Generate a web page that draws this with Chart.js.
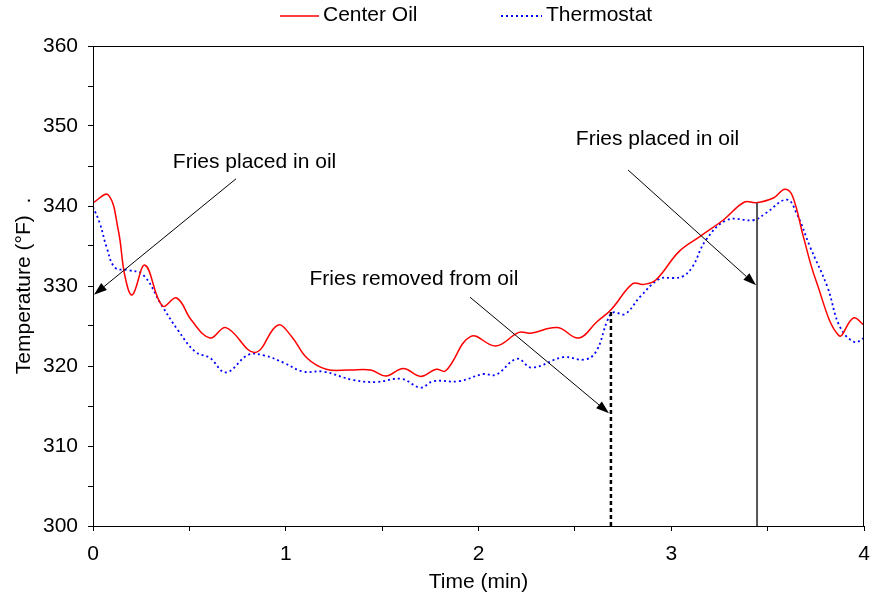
<!DOCTYPE html>
<html>
<head>
<meta charset="utf-8">
<style>
  html, body { margin: 0; padding: 0; background: #fff; }
  #wrap { width: 876px; height: 597px; }
</style>
<script src="https://cdn.jsdelivr.net/npm/chart.js@4.4.1/dist/chart.umd.min.js"></script>
</head>
<body>
<div id="wrap"><canvas id="c" width="876" height="597"></canvas></div>
<script>
// ---- Data ----
const centerTime = [0, 0.078, 0.131, 0.166, 0.204, 0.27, 0.36, 0.434, 0.51, 0.607, 0.69, 0.84, 0.958, 1.03, 1.11, 1.21, 1.33, 1.44, 1.52, 1.61, 1.70, 1.78, 1.83, 1.96, 2.09, 2.21, 2.27, 2.41, 2.52, 2.613, 2.69, 2.80, 2.855, 2.92, 3.04, 3.15, 3.27, 3.38, 3.44, 3.53, 3.59, 3.63, 3.685, 3.75, 3.87, 3.945, 4.0];
const centerTemp = [340.4, 341.4, 337.0, 331.2, 328.9, 332.6, 327.5, 328.5, 325.75, 323.5, 324.8, 321.7, 325.1, 323.7, 321.0, 319.6, 319.5, 319.5, 318.75, 319.7, 318.7, 319.6, 319.4, 323.7, 322.5, 324.2, 324.1, 324.8, 323.5, 325.5, 327.1, 330.3, 330.2, 330.75, 334.3, 336.2, 338.25, 340.5, 340.4, 341.0, 342.1, 341.2, 336.2, 330.75, 323.8, 326.0, 325.1];

const thermoTime = [0, 0.036, 0.07, 0.114, 0.18, 0.26, 0.356, 0.44, 0.53, 0.607, 0.69, 0.806, 0.89, 0.99, 1.09, 1.195, 1.35, 1.47, 1.60, 1.70, 1.765, 1.90, 2.025, 2.09, 2.20, 2.276, 2.44, 2.55, 2.61, 2.67, 2.70, 2.76, 2.84, 2.94, 3.01, 3.06, 3.11, 3.18, 3.29, 3.43, 3.49, 3.60, 3.65, 3.72, 3.81, 3.875, 3.95, 4.0];
const thermoTemp = [339.9, 337.8, 334.9, 332.3, 332.0, 331.4, 327.6, 324.5, 321.8, 321.0, 319.2, 321.4, 321.3, 320.4, 319.3, 319.3, 318.25, 318.0, 318.4, 317.3, 318.1, 318.1, 319.0, 318.9, 320.9, 319.8, 321.1, 320.8, 321.8, 325.75, 326.7, 326.5, 328.7, 330.9, 331.0, 331.2, 332.4, 335.75, 338.25, 338.25, 339.1, 340.8, 339.1, 334.9, 329.9, 324.9, 323.0, 323.5];

const seriesNames = ['Center Oil', 'Thermostat'];
const xTickLabels = [0, 1, 2, 3, 4];
const yTickLabels = [300, 310, 320, 330, 340, 350, 360];

// Annotations in data units (time, temperature)
const annotationTexts = ['Fries placed in oil', 'Fries removed from oil', 'Fries placed in oil'];
const annotationTextAt = [[0.838, 345.5], [1.665, 330.9], [2.929, 348.4]];
const arrowFrom = [[0.742, 343.4], [1.956, 328.6], [2.776, 344.5]];
const arrowTo = [[0.005, 328.9], [2.677, 314.1], [3.44, 330.1]];
const removedLine = [2.687, 300, 327.1];   // time, from, to
const placedLine = [3.445, 300, 340.4];

// ---- Build ----
const FONT = "'Liberation Sans', Arial, sans-serif";
const toXY = (xs, ys) => xs.map((x, i) => ({ x: x, y: ys[i] }));

const overlay = {
  id: 'overlay',
  afterDatasetsDraw(chart) {
    const { ctx, chartArea: a, scales: { x, y } } = chart;
    ctx.save();
    // frame
    ctx.strokeStyle = '#000';
    ctx.lineWidth = 1;
    ctx.strokeRect(a.left + 0.5, a.top + 0.5, a.right - a.left - 1, a.bottom - a.top);

    // dotted vertical (fries removed)
    ctx.beginPath();
    ctx.setLineDash([4, 3]);
    ctx.lineWidth = 2.5;
    ctx.strokeStyle = '#000';
    ctx.moveTo(x.getPixelForValue(removedLine[0]), y.getPixelForValue(removedLine[1]));
    ctx.lineTo(x.getPixelForValue(removedLine[0]), y.getPixelForValue(removedLine[2]));
    ctx.stroke();
    ctx.setLineDash([]);

    // solid vertical (fries placed)
    ctx.beginPath();
    ctx.lineWidth = 2;
    ctx.strokeStyle = '#555';
    ctx.moveTo(x.getPixelForValue(placedLine[0]), y.getPixelForValue(placedLine[1]));
    ctx.lineTo(x.getPixelForValue(placedLine[0]), y.getPixelForValue(placedLine[2]));
    ctx.stroke();

    // arrows
    ctx.strokeStyle = '#000';
    ctx.fillStyle = '#000';
    ctx.lineWidth = 1;
    for (let i = 0; i < arrowFrom.length; i++) {
      const x1 = x.getPixelForValue(arrowFrom[i][0]), y1 = y.getPixelForValue(arrowFrom[i][1]);
      const x2 = x.getPixelForValue(arrowTo[i][0]), y2 = y.getPixelForValue(arrowTo[i][1]);
      const ang = Math.atan2(y2 - y1, x2 - x1);
      const L = 13, W = 4.5;
      const bx = x2 - L * Math.cos(ang), by = y2 - L * Math.sin(ang);
      ctx.beginPath();
      ctx.moveTo(x1, y1);
      ctx.lineTo(bx, by);
      ctx.stroke();
      ctx.beginPath();
      ctx.moveTo(x2, y2);
      ctx.lineTo(bx + W * Math.sin(ang), by - W * Math.cos(ang));
      ctx.lineTo(bx - W * Math.sin(ang), by + W * Math.cos(ang));
      ctx.closePath();
      ctx.fill();
    }

    // annotation texts
    ctx.font = '21px ' + FONT;
    ctx.textAlign = 'center';
    ctx.textBaseline = 'middle';
    ctx.fillStyle = '#000';
    for (let i = 0; i < annotationTexts.length; i++) {
      ctx.fillText(annotationTexts[i],
        x.getPixelForValue(annotationTextAt[i][0]),
        y.getPixelForValue(annotationTextAt[i][1]));
    }

    // legend
    const ds = chart.data.datasets;
    const legendItems = [[280, 319, 323], [501, 542, 546]];
    ctx.textAlign = 'left';
    for (let i = 0; i < ds.length; i++) {
      const [l0, l1, tx] = legendItems[i];
      ctx.beginPath();
      ctx.strokeStyle = ds[i].borderColor;
      ctx.lineWidth = ds[i].borderWidth;
      ctx.setLineDash(ds[i].borderDash || []);
      ctx.moveTo(l0, 16);
      ctx.lineTo(l1, 16);
      ctx.stroke();
      ctx.setLineDash([]);
      ctx.fillStyle = '#000';
      ctx.fillText(ds[i].label, tx, 15.5);
    }
    ctx.restore();
  }
};

new Chart(document.getElementById('c'), {
  type: 'line',
  data: {
    datasets: [
      {
        label: seriesNames[0],
        data: toXY(centerTime, centerTemp),
        borderColor: '#ff0000',
        borderWidth: 1.5,
        pointRadius: 0,
        tension: 0.4,
        fill: false
      },
      {
        label: seriesNames[1],
        data: toXY(thermoTime, thermoTemp),
        borderColor: '#0000ff',
        borderWidth: 1.8,
        borderDash: [2, 3],
        pointRadius: 0,
        tension: 0.4,
        fill: false
      }
    ]
  },
  options: {
    responsive: false,
    devicePixelRatio: 1,
    animation: false,
    layout: { padding: { top: 46, right: 12, left: 0, bottom: 0 } },
    plugins: { legend: { display: false }, tooltip: { enabled: false } },
    scales: {
      x: {
        type: 'linear',
        min: 0, max: 4,
        afterFit: s => { s.height = 71; s.paddingLeft = 0; s.paddingRight = 0; },
        ticks: {
          stepSize: 0.5,
          autoSkip: false,
          maxRotation: 0,
          padding: 11,
          color: '#000',
          font: { family: FONT, size: 21 },
          callback: v => xTickLabels.includes(v) ? String(v) : ''
        },
        grid: { drawOnChartArea: false, drawTicks: true, tickLength: 5, color: '#000', lineWidth: 1 },
        border: { display: true, color: '#000', width: 1 },
        title: { display: true, text: 'Time (min)', color: '#000', font: { family: FONT, size: 21 }, padding: { top: 0, bottom: 2 } }
      },
      y: {
        min: 300, max: 360,
        afterFit: s => { s.width = 93; },
        ticks: {
          stepSize: 5,
          autoSkip: false,
          padding: 10,
          color: '#000',
          font: { family: FONT, size: 21 },
          callback: v => yTickLabels.includes(v) ? String(v) : ''
        },
        grid: { drawOnChartArea: false, drawTicks: true, tickLength: 5, color: '#000', lineWidth: 1 },
        border: { display: true, color: '#000', width: 1 },
        title: { display: true, text: 'Temperature (°F)  .', color: '#000', font: { family: FONT, size: 21 }, padding: { top: 12, bottom: 0 } }
      }
    }
  },
  plugins: [overlay]
});
</script>
</body>
</html>
